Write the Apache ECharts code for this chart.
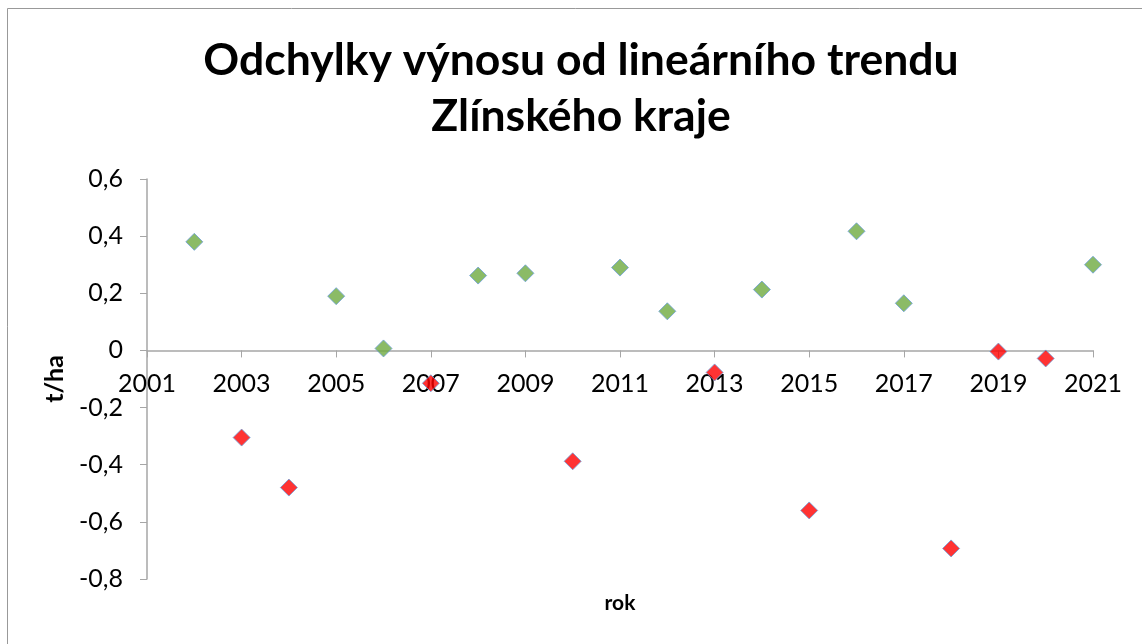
<!DOCTYPE html>
<html>
<head>
<meta charset="utf-8">
<script src="https://cdn.jsdelivr.net/npm/echarts@6/dist/echarts.min.js"></script>
<style>
html,body{margin:0;padding:0;background:#fff;}
#chart{width:1142px;height:644px;}
</style>
</head>
<body>
<div id="chart"></div>
<script>
var years = [2002,2003,2004,2005,2006,2007,2008,2009,2010,2011,2012,2013,2014,2015,2016,2017,2018,2019,2020,2021];
var deviations = [0.38,-0.305,-0.48,0.19,0.007,-0.115,0.262,0.27,-0.388,0.29,0.137,-0.077,0.213,-0.56,0.417,0.165,-0.693,-0.004,-0.028,0.30];
var titleLines = ['Odchylky výnosu od lineárního trendu', 'Zlínského kraje'];
var xName = 'rok';
var yName = 't/ha';

var positive = [], negative = [];
years.forEach(function(y, i){
  if (deviations[i] >= 0) positive.push([y, deviations[i]]);
  else negative.push([y, deviations[i]]);
});

var FONT = 'Lato';
var Y_MIN = -0.8, Y_MAX = 0.6;
var GRID_TOP = 179, GRID_BOTTOM = 65, H = 644;
var plotH = H - GRID_TOP - GRID_BOTTOM;
// shift x axis up to the zero line
var zeroOffset = -plotH * (0 - Y_MIN) / (Y_MAX - Y_MIN);

var chart = echarts.init(document.getElementById('chart'));
var axisColor = '#A6A6A6';
chart.setOption({
  animation: false,
  backgroundColor: '#fff',
  title: {
    text: titleLines.join('\n'),
    left: 576,
    textAlign: 'center',
    top: 28,
    textStyle: {fontFamily: FONT, fontWeight: 'bold', fontSize: 44.5, lineHeight: 56, color: '#000'}
  },
  graphic: [{
    type: 'rect', shape: {x: 7.5, y: 8.5, width: 1300, height: 800},
    style: {fill: 'none', stroke: '#999', lineWidth: 1}, silent: true, z: -1
  }],
  grid: {left: 147, right: 49, top: GRID_TOP, bottom: GRID_BOTTOM, containLabel: false, outerBoundsMode: 'none'},
  xAxis: {
    type: 'value', min: 2001, max: 2021, interval: 2,
    position: 'bottom', offset: zeroOffset,
    name: xName, nameLocation: 'middle', nameGap: 242,
    nameTextStyle: {fontFamily: FONT, fontWeight: 'bold', fontSize: 21, color: '#000'},
    axisLine: {onZero: false, lineStyle: {color: axisColor, width: 1.5}},
    axisTick: {show: true, inside: false, length: 7, lineStyle: {color: axisColor}},
    axisLabel: {fontFamily: FONT, fontSize: 25, color: '#000', margin: 21, formatter: function(v){return String(v);}},
    splitLine: {show: false}
  },
  yAxis: {
    type: 'value', min: Y_MIN, max: Y_MAX, interval: 0.2,
    name: yName, nameLocation: 'middle', nameGap: 80, nameRotate: 90,
    nameTextStyle: {fontFamily: FONT, fontWeight: 'bold', fontSize: 25, color: '#000'},
    axisLine: {show: true, onZero: false, lineStyle: {color: axisColor, width: 1.5}},
    axisTick: {show: true, inside: false, length: 7, lineStyle: {color: axisColor}},
    axisLabel: {fontFamily: FONT, fontSize: 25, color: '#000', margin: 24,
      formatter: function(v){ var r = Math.round(v*10)/10; return r === 0 ? '0' : r.toFixed(1).replace('.', ','); }},
    splitLine: {show: false}
  },
  series: [{
    type: 'scatter', data: positive, symbol: 'diamond', symbolSize: 17,
    itemStyle: {color: '#6EAA40', borderColor: '#6C9FDA', borderWidth: 1}
  }, {
    type: 'scatter', data: negative, symbol: 'diamond', symbolSize: 17,
    itemStyle: {color: '#FF0000', borderColor: '#6C9FDA', borderWidth: 1}
  }]
});
</script>
</body>
</html>
